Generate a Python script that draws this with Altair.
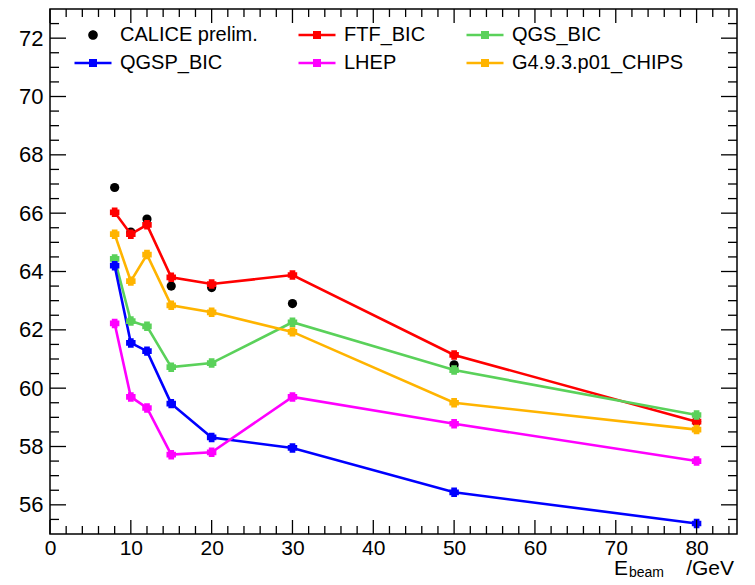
import altair as alt
import pandas as pd

# ---- data ----
energies = [8, 10, 12, 15, 20, 30, 50, 80]

calice = [66.88, 65.35, 65.80, 63.50, 63.45, 62.90, 60.80, 58.85]
ftf_bic = [66.03, 65.28, 65.60, 63.80, 63.57, 63.88, 61.14, 58.85]
qgs_bic = [64.43, 62.30, 62.12, 60.72, 60.86, 62.26, 60.62, 59.08]
qgsp_bic = [64.20, 61.55, 61.27, 59.47, 58.31, 57.95, 56.43, 55.36]
lhep = [62.22, 59.70, 59.32, 57.72, 57.80, 59.70, 58.78, 57.50]
chips = [65.28, 63.67, 64.58, 62.84, 62.60, 61.93, 59.50, 58.58]

# legend order (entries fill the legend column by column)
series_names = ["CALICE prelim.", "QGSP_BIC", "FTF_BIC", "LHEP", "QGS_BIC", "G4.9.3.p01_CHIPS"]
series_colors = ["#000000", "#0000ff", "#ff0000", "#ff00ff", "#5ad15a", "#ffb400"]

y_major = [56, 58, 60, 62, 64, 66, 68, 70, 72]
x_major = [0, 10, 20, 30, 40, 50, 60, 70, 80]

FONT = "Liberation Sans"
W, H = 687, 525

sims = {
    "FTF_BIC": ftf_bic,
    "QGS_BIC": qgs_bic,
    "QGSP_BIC": qgsp_bic,
    "LHEP": lhep,
    "G4.9.3.p01_CHIPS": chips,
}
rows = []
for name, vals in sims.items():
    for e, v in zip(energies, vals):
        rows.append({"series": name, "E": e, "val": v})
sim_df = pd.DataFrame(rows)
cal_df = pd.DataFrame({"series": "CALICE prelim.", "E": energies, "val": calice})
all_df = pd.concat([cal_df, sim_df], ignore_index=True)

y_minor = [v / 2 for v in range(111, 146) if (v / 2) % 2 != 0]
x_minor = [v for v in range(2, 85, 2) if v % 10 != 0]

xscale = alt.Scale(domain=[0, 85], nice=False, zero=False)
yscale = alt.Scale(domain=[55, 73], nice=False, zero=False)
cscale = alt.Scale(domain=series_names, range=series_colors)

xax = alt.Axis(values=x_major, ticks=False, tickSize=0, domain=False, grid=False,
               labelFont=FONT, labelFontSize=21, labelPadding=3, labelColor="#000",
               title=None, labelFlush=False)
yax = alt.Axis(values=y_major, ticks=False, tickSize=0, domain=False, grid=False,
               labelFont=FONT, labelFontSize=22, labelPadding=7, labelColor="#000",
               title=None)

# legend symbols: unit = 10 px (symbolSize 400)
line_path = "M-1.85,-0.13L1.85,-0.13L1.85,0.13L-1.85,0.13Z M-0.4,-0.4L0.4,-0.4L0.4,0.4L-0.4,0.4Z"
dot_path = "M0.48,0A0.48,0.48,0,1,1,-0.48,0A0.48,0.48,0,1,1,0.48,0Z"
marker_path = "M-0.6,-1H0.6V-0.6H1V0.6H0.6V1H-0.6V0.6H-1V-0.6H-0.6Z"

base_x = alt.X("E:Q", scale=xscale, axis=xax)
base_y = alt.Y("val:Q", scale=yscale, axis=yax)

cal_layer = alt.Chart(cal_df).mark_circle(size=85, opacity=1, color="#000").encode(
    x=base_x, y=base_y
)

lines = alt.Chart(sim_df).mark_line(strokeWidth=2.6).encode(
    x=base_x, y=base_y,
    stroke=alt.Stroke("series:N", scale=cscale, legend=None),
    detail="series:N",
)
markers = alt.Chart(sim_df).mark_point(shape=marker_path, filled=True, size=90, opacity=1,
                                       strokeWidth=0).encode(
    x=base_x, y=base_y,
    fill=alt.Fill("series:N", scale=cscale, legend=None),
)

leg_props = dict(
    title=None, orient="none", legendX=33, legendY=16, columns=3, columnPadding=40,
    rowPadding=8, labelFont=FONT, labelFontSize=20, labelColor="#000", labelOffset=17,
    labelLimit=400, symbolSize=400, symbolStrokeWidth=0, symbolOpacity=1, padding=0,
)
legend_layer = alt.Chart(all_df).mark_point(filled=True, opacity=0).encode(
    x=base_x, y=base_y,
    color=alt.Color("series:N", scale=cscale, legend=alt.Legend(**leg_props)),
    shape=alt.Shape("series:N",
                    scale=alt.Scale(domain=series_names,
                                    range=[dot_path] + [line_path] * 5),
                    legend=alt.Legend(**leg_props)),
)

# inward ticks on all four sides
ymaj_df = pd.DataFrame({"val": y_major})
ymin_df = pd.DataFrame({"val": y_minor})
xmaj_df = pd.DataFrame({"E": x_major})
xmin_df = pd.DataFrame({"E": x_minor})

def yticks(df, length):
    left = alt.Chart(df).mark_rule(color="#000", strokeWidth=1.3).encode(
        y=base_y, x=alt.value(0), x2=alt.value(length))
    right = alt.Chart(df).mark_rule(color="#000", strokeWidth=1.3).encode(
        y=base_y, x=alt.value(W), x2=alt.value(W - length))
    return left + right

def xticks(df, length):
    bottom = alt.Chart(df).mark_rule(color="#000", strokeWidth=1.3).encode(
        x=base_x, y=alt.value(H), y2=alt.value(H - length))
    top = alt.Chart(df).mark_rule(color="#000", strokeWidth=1.3).encode(
        x=base_x, y=alt.value(0), y2=alt.value(length))
    return bottom + top

tick_layers = yticks(ymaj_df, 16) + yticks(ymin_df, 9) + xticks(xmaj_df, 14) + xticks(xmin_df, 8)

title_df = pd.DataFrame({"a": [0]})
t_e = alt.Chart(title_df).mark_text(text="E", font=FONT, fontSize=21, align="left",
                                    baseline="alphabetic", color="#000").encode(
    x=alt.value(564), y=alt.value(566))
t_sub = alt.Chart(title_df).mark_text(text="beam", font=FONT, fontSize=14, align="left",
                                      baseline="alphabetic", color="#000").encode(
    x=alt.value(579), y=alt.value(567.5))
t_gev = alt.Chart(title_df).mark_text(text="/GeV", font=FONT, fontSize=21, align="right",
                                      baseline="alphabetic", color="#000").encode(
    x=alt.value(684), y=alt.value(566))

chart = alt.layer(
    legend_layer, cal_layer, lines, markers, tick_layers, t_e, t_sub, t_gev
).properties(
    width=W, height=H,
    autosize=alt.AutoSizeParams(type="none"),
    padding={"left": 42, "top": 1, "right": 10, "bottom": 43},
).configure_view(
    stroke="#000", strokeWidth=1.5
)

chart.save("out.html", embed_options={"renderer": "svg", "actions": False})
